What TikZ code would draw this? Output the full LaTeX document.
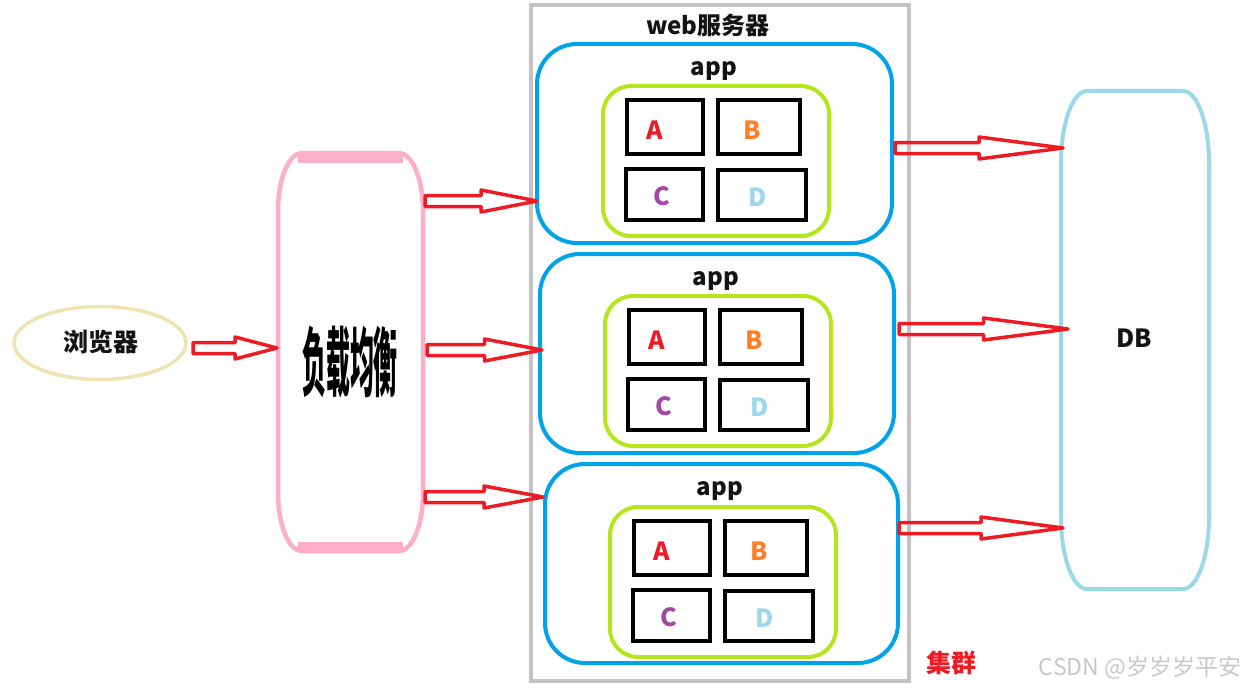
\documentclass[tikz,border=0pt]{standalone}
\usepackage{fontspec}
\setmainfont{Noto Sans CJK SC}
\usetikzlibrary{shapes.geometric,calc}
\definecolor{cred}{RGB}{237,28,36}
\definecolor{corange}{RGB}{255,127,39}
\definecolor{cpurple}{RGB}{163,73,164}
\definecolor{clblue}{RGB}{153,217,234}
\definecolor{cblue}{RGB}{0,162,232}
\definecolor{cgreen}{RGB}{181,230,29}
\definecolor{cpink}{RGB}{255,174,201}
\definecolor{ckhaki}{RGB}{239,228,176}
\definecolor{cgray}{RGB}{195,195,195}
\definecolor{ctext}{RGB}{20,20,20}
\definecolor{cwater}{RGB}{200,200,200}
\newcommand\hollowarrow[2]{%
  \draw[blockarrow] let \p1=(#1), \p2=(#2), \p3=($(#1)!0.5!(#2)$) in
    (\x1,\y1+5.5pt) -- (\x3,\y1+5.5pt) -- (\x3,\y1+11pt) -- (\x2,\y1)
    -- (\x3,\y1-11pt) -- (\x3,\y1-5.5pt) -- (\x1,\y1-5.5pt) -- cycle;}
\newcommand\ovalframe[4]{% node, rx, ry, style
  \draw[#4] let \p1=(#1.north west), \p2=(#1.south east) in
    (\x1+#2,\y1) -- (\x2-#2,\y1) arc[start angle=90,end angle=0,x radius=#2,y radius=#3]
    -- (\x2,\y2+#3) arc[start angle=0,end angle=-90,x radius=#2,y radius=#3]
    -- (\x1+#2,\y2) arc[start angle=270,end angle=180,x radius=#2,y radius=#3]
    -- (\x1,\y1-#3) arc[start angle=180,end angle=90,x radius=#2,y radius=#3] -- cycle;}
\begin{document}
\begin{tikzpicture}[x=1pt,y=-1pt,
  blockarrow/.style={draw=cred,line width=3.5pt,line join=round},
  frame/.style={draw=none,inner sep=0pt,outer sep=0pt},
  appbox/.style={draw=cblue,line width=4pt,rounded corners=40pt,inner sep=0pt},
  greenbox/.style={draw=cgreen,line width=4pt,rounded corners=28pt,inner sep=0pt},
  ibox/.style={draw=black,line width=4pt,inner sep=0pt},
  lbl/.style={inner sep=0pt,text=ctext,font=\fontsize{24pt}{24pt}\selectfont\bfseries},
  letter/.style={inner sep=0pt,font=\fontsize{25pt}{25pt}\selectfont\bfseries}]
\useasboundingbox (0,0) rectangle (1251,693);
% browser
\node[ellipse,draw=ckhaki,line width=3.5pt,minimum width=172pt,minimum height=73pt,inner sep=0pt]
  (browser) at (100,343) {};
\node[lbl,font=\fontsize{25pt}{25pt}\selectfont\bfseries] (browsertext) at (101,342) {浏览器};
% load balancer
\node[frame,minimum width=145pt,minimum height=398pt] (lb) at (350.5,352) {};
\ovalframe{lb}{24pt}{58pt}{draw=cpink,line width=4.5pt}
\draw[draw=cpink,line width=11pt] (298,157) -- (403,157) (298,547) -- (403,547);
\node[inner sep=0pt,text=black] (lbtext) at (350,362)
  {\scalebox{0.92}[2.9]{\fontsize{26pt}{26pt}\selectfont\bfseries 负载均衡}};
% web server frame
\node[draw=cgray,line width=4pt,minimum width=378pt,minimum height=676pt,inner sep=0pt]
  (web) at (720,343) {};
\node[lbl] (webtext) at (708,25) {web服务器};
% app boxes
\node[appbox,minimum width=355pt,minimum height=199pt] (app1) at (714.5,143.5) {};
\node[appbox,minimum width=354pt,minimum height=199pt] (app2) at (717,353.5) {};
\node[appbox,minimum width=353pt,minimum height=199pt] (app3) at (721.5,563.5) {};
\node[lbl] (apptext1) at (714,71) {app};
\node[lbl] (apptext2) at (716,281) {app};
\node[lbl] (apptext3) at (720,491) {app};
\foreach \i/\dx/\dy in {1/0/0,2/2/210,3/7/421}{
  \begin{scope}[shift={(\dx,\dy)}]
    \node[greenbox,minimum width=226pt,minimum height=150pt] (g\i) at (716,161) {};
    \node[ibox,minimum width=76pt,minimum height=54pt] (A\i) at (665,127) {};
    \node[ibox,minimum width=82pt,minimum height=54pt] (B\i) at (759,127) {};
    \node[ibox,minimum width=77pt,minimum height=51pt] (C\i) at (664.5,194.5) {};
    \node[ibox,minimum width=88pt,minimum height=50pt] (D\i) at (762,195) {};
    \node[letter,text=cred] (At\i) at (655,130) {A};
    \node[letter,text=corange] (Bt\i) at (752,130) {B};
    \node[letter,text=cpurple] (Ct\i) at (662,196) {C};
    \node[letter,text=clblue] (Dt\i) at (758,197) {D};
  \end{scope}
}
% DB
\node[frame,minimum width=148pt,minimum height=498pt] (db) at (1135,340) {};
\ovalframe{db}{26pt}{72pt}{draw=clblue,line width=4pt}
\node[lbl,font=\fontsize{25pt}{25pt}\selectfont\bfseries] (dbtext) at (1134,338) {DB};
% arrows
\coordinate (b0) at (193,348);  \coordinate (b1) at (277,348);
\coordinate (s1) at (425,201);  \coordinate (t1) at (537,201);
\coordinate (s2) at (427,350);  \coordinate (t2) at (542,350);
\coordinate (s3) at (425,497);  \coordinate (t3) at (543,497);
\coordinate (u1) at (895,148);  \coordinate (v1) at (1063,148);
\coordinate (u2) at (899,329);  \coordinate (v2) at (1068,329);
\coordinate (u3) at (899,528);  \coordinate (v3) at (1063,528);
\hollowarrow{b0}{b1}
\hollowarrow{s1}{t1}
\hollowarrow{s2}{t2}
\hollowarrow{s3}{t3}
\hollowarrow{u1}{v1}
\hollowarrow{u2}{v2}
\hollowarrow{u3}{v3}
% labels
\node[lbl,text=cred,font=\fontsize{25pt}{25pt}\selectfont\bfseries] (cluster) at (951,663) {集群};
\node[inner sep=0pt,text=cwater,font=\fontsize{23pt}{23pt}\selectfont] (watermark) at (1140,668) {CSDN @岁岁岁平安};
\end{tikzpicture}
\end{document}
